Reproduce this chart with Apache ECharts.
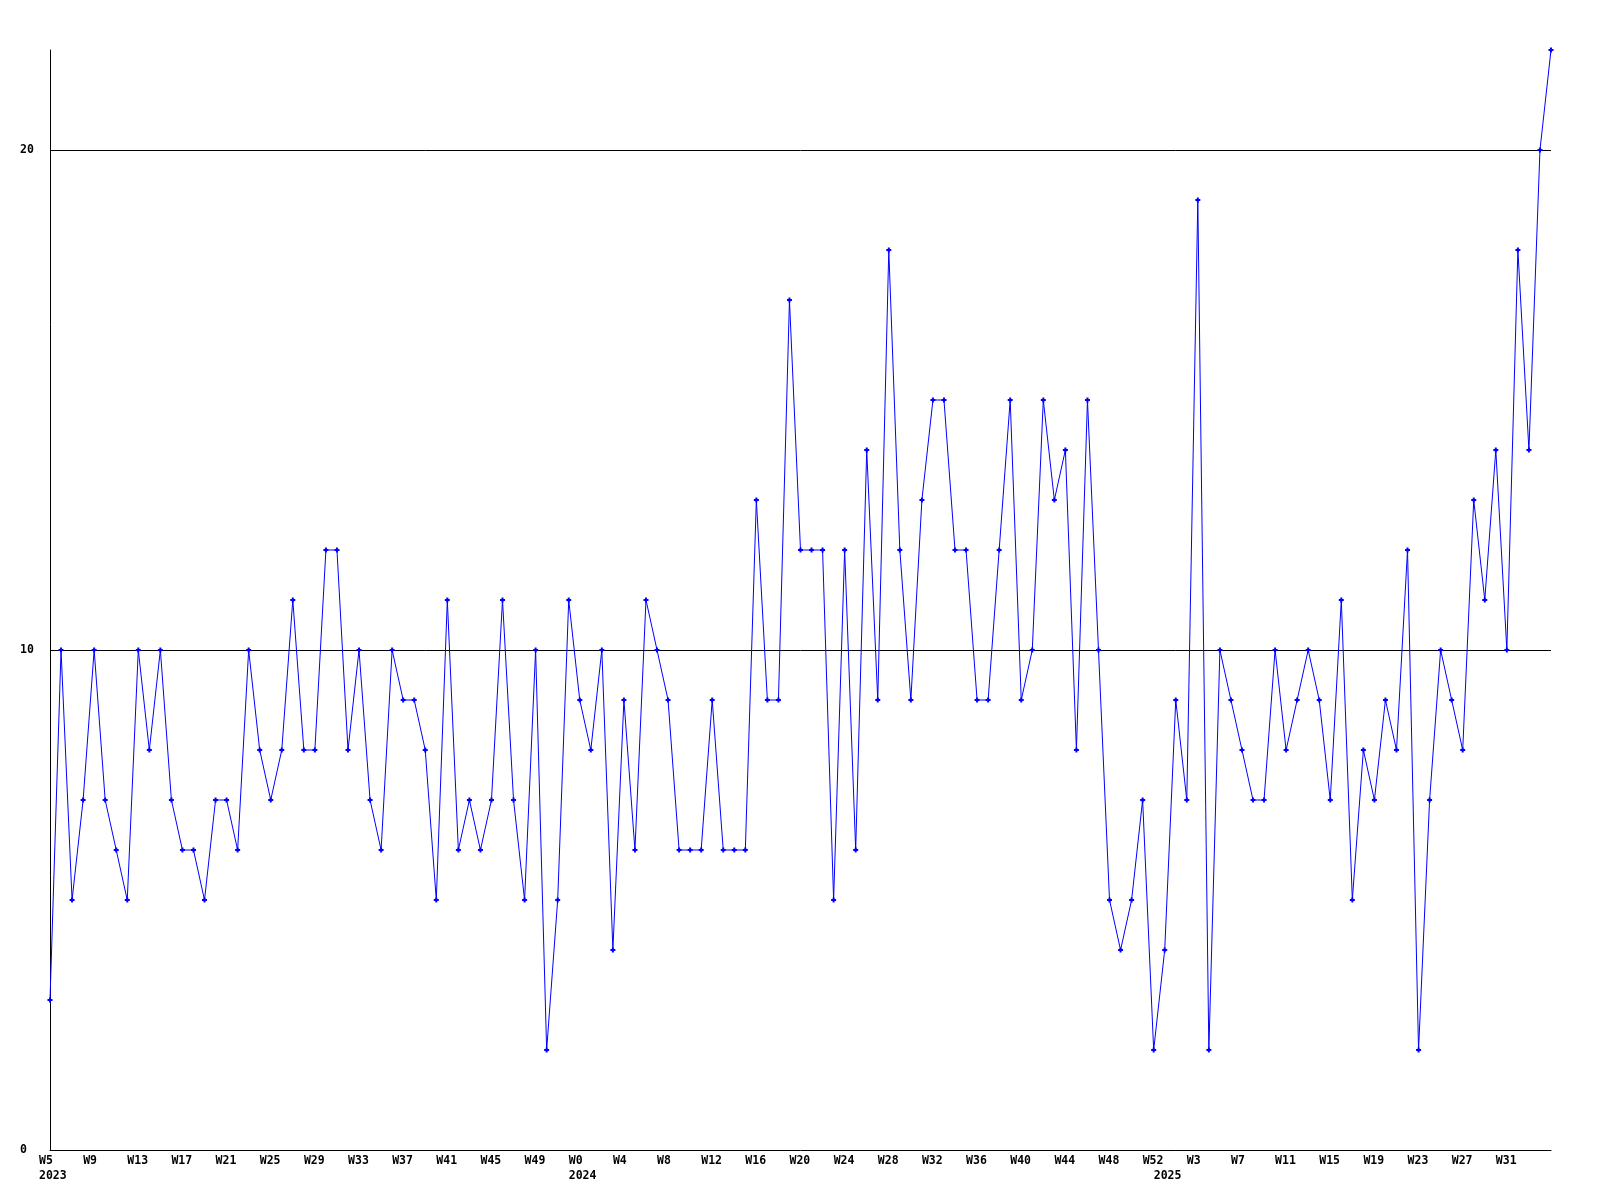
<!DOCTYPE html>
<html>
<head>
<meta charset="utf-8">
<script src="https://cdn.jsdelivr.net/npm/echarts@6/dist/echarts.min.js"></script>
<style>
html,body{margin:0;padding:0;background:#fff;}
#chart{width:1600px;height:1200px;}
</style>
</head>
<body>
<div id="chart"></div>
<script>
// Week ranges covered: [year, first week, last week]
const weekRanges = [[2023, 5, 52], [2024, 0, 52], [2025, 0, 35]];
// Weekly values, one per week from 2023 W5 to 2025 W35
const values = [
  3,10,5,7,10,7,6,5,10,8,
  10,7,6,6,5,7,7,6,10,8,
  7,8,11,8,8,12,12,8,10,7,
  6,10,9,9,8,5,11,6,7,6,
  7,11,7,5,10,2,5,11,9,8,
  10,4,9,6,11,10,9,6,6,6,
  9,6,6,6,13,9,9,17,12,12,
  12,5,12,6,14,9,18,12,9,13,
  15,15,12,12,9,9,12,15,9,10,
  15,13,14,8,15,10,5,4,5,7,
  2,4,9,7,19,2,10,9,8,7,
  7,10,8,9,10,9,7,11,5,8,
  7,9,8,12,2,7,10,9,8,13,
  11,14,10,18,14,20,22
];
const yTicks = [0, 10, 20];
const yMax = 22;
const labelEvery = 4;

const categories = [];
const catYear = [];
const catWeek = [];
weekRanges.forEach(([y, a, b]) => {
  for (let w = a; w <= b; w++) {
    categories.push(y + '-W' + w);
    catYear.push(y);
    catWeek.push(w);
  }
});

const font = {
  fontFamily: '"DejaVu Sans Mono", "Liberation Mono", monospace',
  fontWeight: 'bold',
  fontSize: 11.5,
  color: '#000'
};

const chart = echarts.init(document.getElementById('chart'), null, {renderer: 'canvas'});
chart.setOption({
  animation: false,
  backgroundColor: '#ffffff',
  grid: [
    {left: 50, top: 50, width: 1501, height: 1100, containLabel: false},
    {left: 39, top: 50, width: 1501, height: 1100, containLabel: false}
  ],
  xAxis: [
    {
      type: 'category', gridIndex: 0, data: categories, boundaryGap: false,
      axisLine: {show: true, lineStyle: {color: '#000', width: 1}},
      axisTick: {show: false},
      axisLabel: {show: false},
      splitLine: {show: false}
    },
    {
      type: 'category', gridIndex: 1, data: categories, boundaryGap: false,
      axisLine: {show: false}, axisTick: {show: false}, splitLine: {show: false},
      axisLabel: Object.assign({
        show: true, interval: 0, align: 'left', margin: 4, lineHeight: 15,
        formatter: function (val, i) {
          if (i === categories.length - 1) return '';
          const first = (i % labelEvery === 0) ? ('W' + catWeek[i]) : '';
          const yearStart = (i === 0 || catYear[i] !== catYear[i - 1]);
          if (yearStart) return first + '\n' + catYear[i];
          return first;
        }
      }, font)
    }
  ],
  yAxis: [
    {
      type: 'value', gridIndex: 0, min: 0, max: yMax, interval: 10,
      axisLine: {show: true, lineStyle: {color: '#000', width: 1}},
      axisTick: {show: false},
      splitLine: {show: true, showMinLine: false, showMaxLine: false, lineStyle: {color: '#000', width: 1}},
      axisLabel: Object.assign({
        show: true, align: 'left', margin: 30, showMaxLabel: false, padding: [4, 0, 0, 0],
        formatter: function (v) { return yTicks.indexOf(v) >= 0 ? String(v) : ''; }
      }, font)
    },
    {
      type: 'value', gridIndex: 1, min: 0, max: yMax, show: false
    }
  ],
  series: [{
    type: 'line',
    xAxisIndex: 0, yAxisIndex: 0,
    data: values,
    showAllSymbol: true,
    symbol: 'path://M1.5,0H3.5V1.5H5V3.5H3.5V5H1.5V3.5H0V1.5H1.5Z',
    symbolSize: 5,
    itemStyle: {color: '#0000ff'},
    lineStyle: {color: '#0000ff', width: 1},
    emphasis: {disabled: true},
    clip: true
  }]
});
</script>
</body>
</html>
